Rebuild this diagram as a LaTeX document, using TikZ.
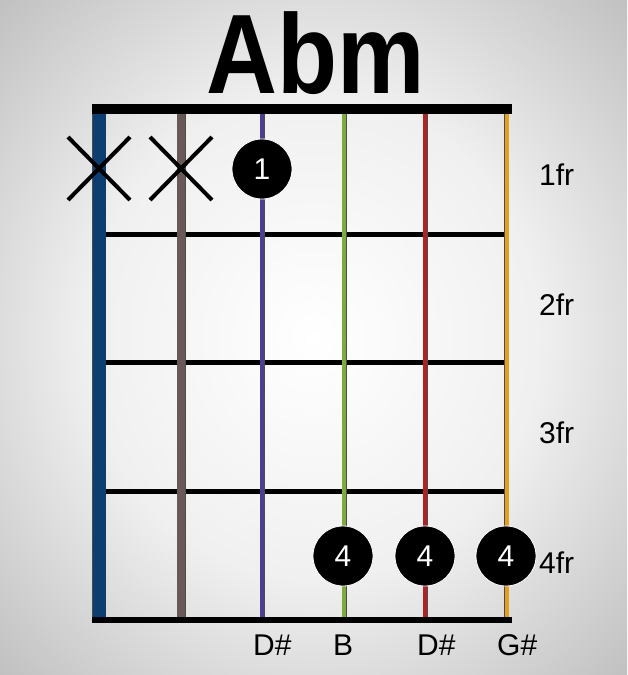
\documentclass[tikz,border=0pt]{standalone}
\usepackage{fontspec}
\usepackage{graphicx}
\setmainfont{Liberation Sans}
\usetikzlibrary{positioning}
\definecolor{strE}{RGB}{12,62,114}
\definecolor{strA}{RGB}{104,88,86}
\definecolor{strD}{RGB}{78,62,146}
\definecolor{strG}{RGB}{126,172,60}
\definecolor{strB}{RGB}{178,34,34}
\definecolor{strHi}{RGB}{226,160,32}
\pgfdeclareradialshading{vignette}{\pgfpoint{0bp}{0bp}}{color(0bp)=(white); color(18bp)=(black!6); color(50bp)=(black!40); color(71bp)=(black!60)}

\begin{document}
\begin{tikzpicture}[x=1pt,y=-1pt,
  fing/.style={circle,fill=black,draw=white,line width=0.8pt,minimum size=60pt,inner sep=0pt,text=white,font=\fontsize{30}{30}\selectfont},
  frlab/.style={anchor=base west,inner sep=0pt,font=\fontsize{30}{30}\selectfont},
  notelab/.style={anchor=base west,inner sep=0pt,font=\fontsize{30}{30}\selectfont},
  mute/.style={line width=4pt}]
\shade[shading=vignette] (0,0) rectangle (627,675);
\useasboundingbox (0,0) rectangle (627,675);
% title
\node[anchor=base,inner sep=0pt,font=\bfseries\fontsize{113}{113}\selectfont] (title) at (316,93) {\scalebox{0.87}[1]{Abm}};
% frets
\foreach \y in {234,362.5,491.5} \draw[line width=5pt] (99,\y) -- (506,\y);
% strings
\foreach \x/\w/\c in {99/13/strE,181/8/strA,262/4/strD,344/4/strG,425/4/strB,506.5/4/strHi}{
  \draw[line width=\w pt+1pt,black!70] (\x,114) -- (\x,617);
  \draw[line width=\w pt,\c] (\x,114) -- (\x,617);}
% nut and end bar
\draw[line width=10pt] (92,109) -- (512,109);
\draw[line width=6pt] (92,620) -- (512,620);
% muted strings
\foreach \x in {99,181}{\draw[mute] (\x-31,137) -- (\x+31,200) (\x-31,200) -- (\x+31,137);}
% fingers
\node[fing] (f1) at (262,169) {1};
\foreach \x/\n in {343/b,425/d,506/g} \node[fing] (f4\n) at (\x,556) {4};
% fret numbers
\foreach \y/\lab in {185/1fr,315/2fr,443/3fr,573/4fr} \node[frlab] (fr\lab) at (539,\y) {\lab};
% note names
\foreach \x/\lab/\n in {253/D\#/d,333/B/b,417/D\#/dd,497/G\#/g} \node[notelab] (n\n) at (\x,655) {\lab};
\end{tikzpicture}
\end{document}
